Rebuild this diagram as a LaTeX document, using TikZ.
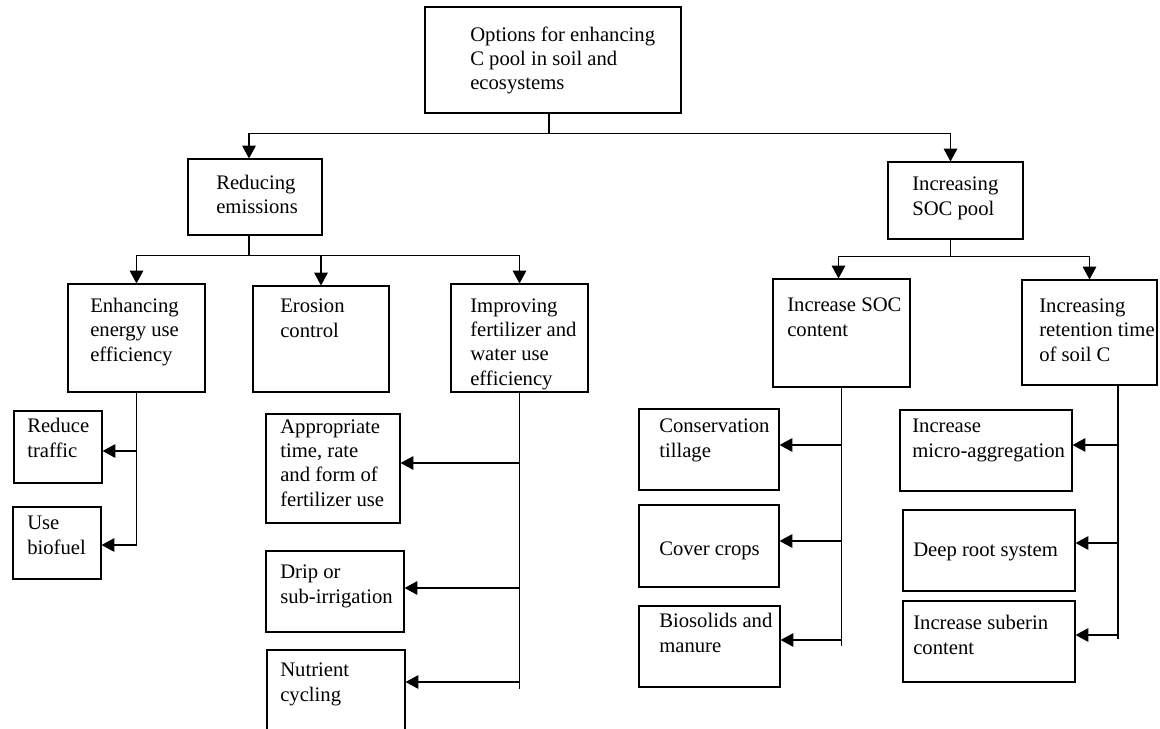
\documentclass[tikz,border=0pt]{standalone}
\usepackage{fontspec}
\setmainfont{Liberation Serif}
\usetikzlibrary{arrows.meta}
\usetikzlibrary{fit}

\begin{document}
\begin{tikzpicture}[x=0.025cm,y=-0.025cm,
  box/.style={draw,line width=0.8pt,inner sep=0pt},
  txt/.style={anchor=base west,align=left,inner sep=0pt,font=\fontsize{14.7}{17.1}\selectfont},
  arr/.style={line width=0.8pt,-{Triangle[length=0.32cm,width=0.34cm]}},
  trunk/.style={line width=0.8pt}]
\clip (0,0) rectangle (1160,729);

% top level (text placed at the baseline of its last line)
\node[box,fit={(425,7) (681,113)}] (top) {};
\node[txt] (top-t) at (470,90) {Options for enhancing\\C pool in soil and\\ecosystems};

% second level
\node[box,fit={(188,159) (322,235)}] (red) {};
\node[txt] (red-t) at (216,214) {Reducing\\emissions};
\node[box,fit={(888,162) (1023,239)}] (soc) {};
\node[txt] (soc-t) at (912,215) {Increasing\\SOC pool};

% third level
\node[box,fit={(68,284) (205,392)}] (enh) {};
\node[txt] (enh-t) at (90,361) {Enhancing\\energy use\\efficiency};
\node[box,fit={(253,286) (389,392)}] (ero) {};
\node[txt] (ero-t) at (280,337) {Erosion\\control};
\node[box,fit={(451,284) (588,392)}] (imp) {};
\node[txt] (imp-t) at (470,385) {Improving\\fertilizer and\\water use\\efficiency};
\node[box,fit={(773,279) (910,387)}] (socc) {};
\node[txt] (socc-t) at (787,336) {Increase SOC\\content};
\node[box,fit={(1022,280) (1157,385)}] (ret) {};
\node[txt] (ret-t) at (1039,361) {Increasing\\retention time\\of soil C};

% leaves
\node[box,fit={(14,411) (102,483)}] (traf) {};
\node[txt] (traf-t) at (27,457) {Reduce\\traffic};
\node[box,fit={(13,507) (101,579)}] (bio) {};
\node[txt] (bio-t) at (27,554) {Use\\biofuel};

\node[box,fit={(266,414) (400,523)}] (app) {};
\node[txt] (app-t) at (280,506) {Appropriate\\time, rate\\and form of\\fertilizer use};
\node[box,fit={(266,551) (404,632)}] (drip) {};
\node[txt] (drip-t) at (280,603) {Drip or\\sub-irrigation};
\node[box,fit={(267,650) (405,745)}] (nut) {};
\node[txt] (nut-t) at (280,701) {Nutrient\\cycling};

\node[box,fit={(639,409) (779,490)}] (cons) {};
\node[txt] (cons-t) at (659,457) {Conservation\\tillage};
\node[box,fit={(639,505) (779,587)}] (cov) {};
\node[txt] (cov-t) at (659,555) {Cover crops};
\node[box,fit={(639,606) (780,687)}] (bios) {};
\node[txt] (bios-t) at (659,652) {Biosolids and\\manure};

\node[box,fit={(900,410) (1072,491)}] (micro) {};
\node[txt] (micro-t) at (912,457) {Increase\\micro-aggregation};
\node[box,fit={(903,510) (1075,591)}] (deep) {};
\node[txt] (deep-t) at (913,556) {Deep root system};
\node[box,fit={(903,601) (1075,682)}] (sub) {};
\node[txt] (sub-t) at (913,654) {Increase suberin\\content};

% branches downwards
\draw[trunk] ([shift={(-4,0)}]top.south) -- ++(0,20) coordinate (j0);
\draw[arr] (j0) -| ([shift={(-6,0)}]red.north);
\draw[arr] (j0) -| ([shift={(-5,0)}]soc.north);

\draw[trunk] ([shift={(-6,0)}]red.south) -- ++(0,20) coordinate (j1);
\draw[arr] (j1) -| (enh.north);
\draw[arr] (j1) -| (ero.north);
\draw[arr] (j1) -| (imp.north);

\draw[trunk] ([shift={(-5,0)}]soc.south) -- ++(0,17) coordinate (j2);
\draw[arr] (j2) -| ([shift={(-3,0)}]socc.north);
\draw[arr] (j2) -| (ret.north);

% side branches
\coordinate (enh-end) at (enh.south |- 0,546);
\draw[trunk] (enh.south) -- (enh-end);
\draw[arr] (enh.south |- 0,451) -- (traf.east |- 0,451);
\draw[arr] (enh.south |- 0,545) -- (bio.east |- 0,545);

\coordinate (imp-end) at (imp.south |- 0,689);
\draw[trunk] (imp.south) -- (imp-end);
\draw[arr] (imp.south |- 0,463) -- (app.east |- 0,463);
\draw[arr] (imp.south |- 0,588) -- (drip.east |- 0,588);
\draw[arr] (imp.south |- 0,682) -- (nut.east |- 0,682);

\coordinate (socc-end) at (socc.south |- 0,646);
\draw[trunk] (socc.south) -- (socc-end);
\draw[arr] (socc.south |- 0,445) -- (cons.east |- 0,445);
\draw[arr] (socc.south |- 0,541) -- (cov.east |- 0,541);
\draw[arr] (socc.south |- 0,640) -- (bios.east |- 0,640);

\coordinate (ret-top) at (ret.south -| 1118,0);
\coordinate (ret-end) at (1118,639);
\draw[trunk] (ret-top) -- (ret-end);
\draw[arr] (ret-top |- 0,445) -- (micro.east |- 0,445);
\draw[arr] (ret-top |- 0,543) -- (deep.east |- 0,543);
\draw[arr] (ret-top |- 0,635) -- (sub.east |- 0,635);

\end{tikzpicture}
\end{document}
